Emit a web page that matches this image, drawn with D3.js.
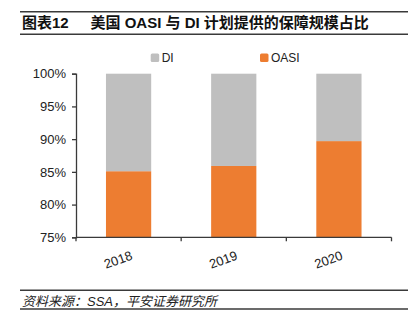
<!DOCTYPE html>
<html>
<head>
<meta charset="utf-8">
<script src="https://cdn.jsdelivr.net/npm/d3@7"></script>
<style>
  html, body { margin: 0; padding: 0; background: #fff; }
  svg { display: block; }
</style>
</head>
<body>
<script>
// Share of benefits paid under OASI vs DI, 2018–2020
const years = ["2018", "2019", "2020"];
const oasiShare = [85.1, 85.9, 89.7];
const diShare = oasiShare.map(v => 100 - v);
const seriesNames = ["DI", "OASI"];
const seriesColors = ["#BFBFBF", "#ED7D31"];
const yTicks = [75, 80, 85, 90, 95, 100];

const W = 419, H = 331;
const svg = d3.select("body").append("svg").attr("width", W).attr("height", H);

const latin = "'Liberation Sans', Arial, 'Noto Sans CJK SC', sans-serif";
const lineColor = "#3a3a3a";

// Title block with rules above and below
svg.append("line").attr("x1", 20).attr("x2", 408).attr("y1", 11.7).attr("y2", 11.7)
  .attr("stroke", lineColor).attr("stroke-width", 1.6);
svg.append("line").attr("x1", 20).attr("x2", 408).attr("y1", 34.3).attr("y2", 34.3)
  .attr("stroke", lineColor).attr("stroke-width", 1.6);
const title = svg.append("text").attr("x", 22).attr("y", 28.3)
  .attr("font-family", latin).attr("font-size", 15).attr("font-weight", "bold").attr("fill", "#111");
title.append("tspan").text("图表12");
title.append("tspan").attr("x", 90.5).text("美国 OASI 与 DI 计划提供的保障规模占比");

// Plot area
const x = d3.scaleBand().domain(years).range([76, 391.5]).paddingInner(0.57).paddingOuter(0.285);
const y = d3.scaleLinear().domain([75, 100]).range([237.3, 73.7]);

const stackData = years.map((yr, i) => ({ year: yr, OASI: oasiShare[i], DI: diShare[i] }));
const series = d3.stack().keys(["OASI", "DI"])(stackData);
const color = d3.scaleOrdinal().domain(seriesNames).range(seriesColors);

svg.append("g").selectAll("g").data(series).join("g")
  .attr("fill", d => color(d.key))
  .selectAll("rect").data(d => d).join("rect")
  .attr("x", d => x(d.data.year))
  .attr("width", x.bandwidth())
  .attr("y", d => y(Math.min(100, d[1])))
  .attr("height", d => y(Math.max(75, d[0])) - y(Math.min(100, d[1])));

// Y axis
const yAxis = svg.append("g").attr("transform", "translate(76,0)")
  .call(d3.axisLeft(y).tickValues(yTicks).tickFormat(d => d + "%").tickSize(4).tickPadding(6));
yAxis.select(".domain").attr("stroke", lineColor).attr("stroke-width", 1.3);
yAxis.selectAll(".tick line").attr("stroke", lineColor).attr("stroke-width", 1.3);
yAxis.selectAll(".tick text").attr("font-family", latin).attr("font-size", 13).attr("fill", "#222");

// X axis: ticks sit between categories
const xBase = svg.append("g").attr("transform", "translate(0,237.3)");
xBase.append("line").attr("x1", 76).attr("x2", 391.5).attr("stroke", lineColor).attr("stroke-width", 1.3);
const bounds = d3.range(years.length + 1).map(i => 76 + i * (315.5 / years.length));
xBase.selectAll("line.tk").data(bounds).join("line").attr("class", "tk")
  .attr("x1", d => d).attr("x2", d => d).attr("y1", 0).attr("y2", 4)
  .attr("stroke", lineColor).attr("stroke-width", 1.3);
xBase.selectAll("text").data(years).join("text")
  .attr("transform", d => `translate(${x(d) + x.bandwidth() / 2 + 1.5},${13}) rotate(-20)`)
  .attr("text-anchor", "end").attr("dy", "0.71em")
  .attr("font-family", latin).attr("font-size", 13).attr("fill", "#222")
  .text(d => d);

// Legend
const legend = svg.append("g");
const legendPos = [{ name: "DI", x: 150.7 }, { name: "OASI", x: 260 }];
legendPos.forEach(p => {
  legend.append("rect").attr("x", p.x).attr("y", 53.5).attr("width", 8.5).attr("height", 8.5)
    .attr("rx", 1.5).attr("fill", color(p.name));
  legend.append("text").attr("x", p.x + 11).attr("y", 62).attr("font-family", latin)
    .attr("font-size", 12).attr("fill", "#222").text(p.name);
});

// Source note
svg.append("line").attr("x1", 20).attr("x2", 408).attr("y1", 290.3).attr("y2", 290.3)
  .attr("stroke", lineColor).attr("stroke-width", 1.6);
svg.append("line").attr("x1", 20).attr("x2", 408).attr("y1", 309).attr("y2", 309)
  .attr("stroke", lineColor).attr("stroke-width", 1.6);
svg.append("text").attr("x", 22).attr("y", 305.5)
  .attr("font-family", latin).attr("font-size", 13).attr("font-style", "italic").attr("fill", "#222")
  .text("资料来源：SSA，平安证券研究所");
</script>
</body>
</html>
